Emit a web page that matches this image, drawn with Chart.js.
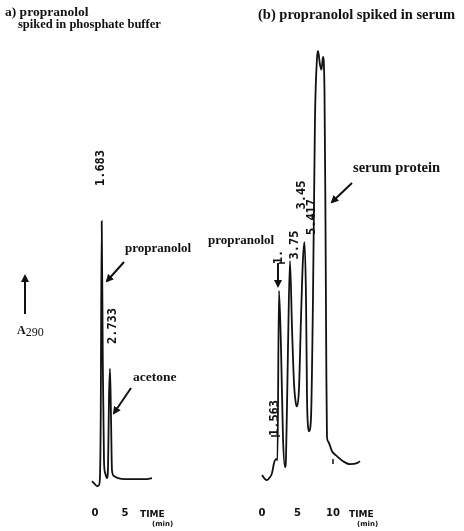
<!DOCTYPE html>
<html>
<head>
<meta charset="utf-8">
<script src="https://cdn.jsdelivr.net/npm/chart.js@4.4.1/dist/chart.umd.min.js"></script>
<style>
  html, body { margin: 0; padding: 0; background: #fff; }
  #wrap { position: relative; width: 464px; height: 531px; overflow: hidden; }
  canvas { position: absolute; top: 0; }
  svg { position: absolute; left: 0; top: 0; }
  .t  { position: absolute; font-family: "Liberation Serif", "Times New Roman", serif; font-weight: bold; font-size: 13px; color: #111; white-space: nowrap; line-height: 1; }
  .rt { position: absolute; font-family: "DejaVu Sans Mono", monospace; font-weight: bold; font-size: 12px; color: #111; white-space: nowrap; line-height: 1; transform: translate(-50%, -50%) rotate(-90deg); }
  .ax { position: absolute; font-family: "DejaVu Sans", sans-serif; font-weight: bold; color: #111; line-height: 1; white-space: nowrap; }
</style>
</head>
<body>
<div id="wrap">
  <canvas id="chartA" width="140" height="531" style="left:60px;width:140px;height:531px"></canvas>
  <canvas id="chartB" width="264" height="531" style="left:200px;width:264px;height:531px"></canvas>

  <svg width="464" height="531" viewBox="0 0 464 531">
    <defs>
      <marker id="head" markerWidth="8" markerHeight="8" refX="6" refY="4" orient="auto" markerUnits="userSpaceOnUse">
        <path d="M0,0 L8,4 L0,8 z" fill="#111"/>
      </marker>
    </defs>
    <g stroke="#111" stroke-width="2" fill="none">
      <line x1="25" y1="314" x2="25" y2="276" marker-end="url(#head)"/>
      <line x1="124" y1="262" x2="107" y2="281" marker-end="url(#head)"/>
      <line x1="131" y1="388" x2="114" y2="413" marker-end="url(#head)"/>
      <line x1="278" y1="263" x2="278" y2="286" marker-end="url(#head)"/>
      <line x1="352" y1="183" x2="332" y2="202" marker-end="url(#head)"/>
    </g>
    <g stroke="#111" stroke-width="1.5">
      <line x1="279" y1="263" x2="285" y2="263"/>
      <line x1="271" y1="436" x2="280" y2="436"/>
      <line x1="333" y1="459" x2="333" y2="464"/>
    </g>
  </svg>

  <div class="t" style="left:5px;top:5px;font-size:13.5px">a) propranolol</div>
  <div class="t" style="left:18px;top:18px;font-size:12.5px">spiked in phosphate buffer</div>
  <div class="t" style="left:258px;top:7px;font-size:14.5px">(b) propranolol spiked in serum</div>

  <div class="rt" style="left:100px;top:168px">1.683</div>
  <div class="t" style="left:125px;top:241px">propranolol</div>
  <div class="rt" style="left:112px;top:326px">2.733</div>
  <div class="t" style="left:133px;top:370px;font-size:13.5px">acetone</div>

  <div class="t" style="left:17px;top:324px;font-size:12px">A<span style="position:relative;top:2px;font-weight:normal">290</span></div>

  <div class="t" style="left:208px;top:233px">propranolol</div>
  <div class="rt" style="left:278px;top:257px">1.</div>
  <div class="rt" style="left:274px;top:418px">1.563</div>
  <div class="rt" style="left:294px;top:245px">3.75</div>
  <div class="rt" style="left:301px;top:195px">3.45</div>
  <div class="rt" style="left:311px;top:217px">5.417</div>
  <div class="t" style="left:353px;top:160px;font-size:14.5px">serum protein</div>

  <div class="ax" style="left:140px;top:510px;font-size:9px">TIME</div>
  <div class="ax" style="left:152px;top:521px;font-size:7px">(min)</div>
  <div class="ax" style="left:349px;top:510px;font-size:9px">TIME</div>
  <div class="ax" style="left:357px;top:521px;font-size:7px">(min)</div>
</div>

<script>
// (a) propranolol in phosphate buffer: time (min) vs relative A290
const timeA = [-0.5, -0.17, 0.33, 0.67, 0.83, 0.95, 1.12, 1.3, 1.5, 1.7, 2.0, 2.17, 2.33, 2.5, 2.67, 2.83, 3.17, 3.83, 5.0, 6.67, 8.33, 9.5];
const absA  = [0, -2, -5, -4, 5, 60, 261, 120, 20, 8, 3, 13, 83, 113, 63, 11, 5, 3, 2, 2, 2, 3];

// (b) propranolol in serum
const timeB = [0.0, 0.42, 0.70, 1.13, 1.41, 1.69, 1.97, 2.18, 2.39, 2.68, 2.96, 3.24, 3.38, 3.66, 3.94, 4.23, 4.51, 4.79, 4.93, 5.21, 5.49, 5.77, 5.99, 6.20, 6.34, 6.48, 6.62, 6.90, 7.18, 7.46, 7.75, 7.89, 8.17, 8.38, 8.59, 8.80, 8.94, 9.06, 9.15, 9.30, 9.86, 10.56, 11.41, 12.39, 13.38, 13.80];
const absB  = [-7, -11, -12, -9, -5, 5, 9, 8, 178, 120, 30, 1, 10, 120, 208, 140, 85, 64, 62, 80, 150, 210, 227, 170, 70, 42, 37, 50, 170, 350, 412, 419, 405, 400, 413, 380, 250, 100, 32, 27, 17, 12, 7, 4, 5, 7];

const ticksA = [0, 5];
const ticksB = [0, 5, 10];

function pts(xs, ys) { return xs.map((x, i) => ({ x, y: ys[i] })); }

function makeChart(id, xs, ys, ticks, xMin, xMax, yMin, yMax) {
  return new Chart(document.getElementById(id), {
    type: 'line',
    data: { datasets: [{ data: pts(xs, ys), borderColor: '#111', borderWidth: 1.8, pointRadius: 0, cubicInterpolationMode: 'monotone', fill: false }] },
    options: {
      responsive: false, animation: false,
      layout: { padding: { left: 0, right: 0, top: 0, bottom: 10 } },
      plugins: { legend: { display: false }, tooltip: { enabled: false } },
      scales: {
        x: {
          type: 'linear', min: xMin, max: xMax,
          afterBuildTicks: s => { s.ticks = ticks.map(v => ({ value: v })); },
          grid: { display: false, drawTicks: false }, border: { display: false },
          ticks: { color: '#111', padding: 2, font: { family: 'DejaVu Sans', size: 10, weight: 'bold' }, maxRotation: 0 }
        },
        y: { display: false, min: yMin, max: yMax }
      }
    }
  });
}

// x: 0 min at 35px / 6px per min (a), 62px / 7.1px per min (b)
makeChart('chartA', timeA, absA, ticksA, -35 / 6, (140 - 35) / 6, -24, 483);
makeChart('chartB', timeB, absB, ticksB, -62 / 7.1, (264 - 62) / 7.1, -37, 470);
</script>
</body>
</html>
